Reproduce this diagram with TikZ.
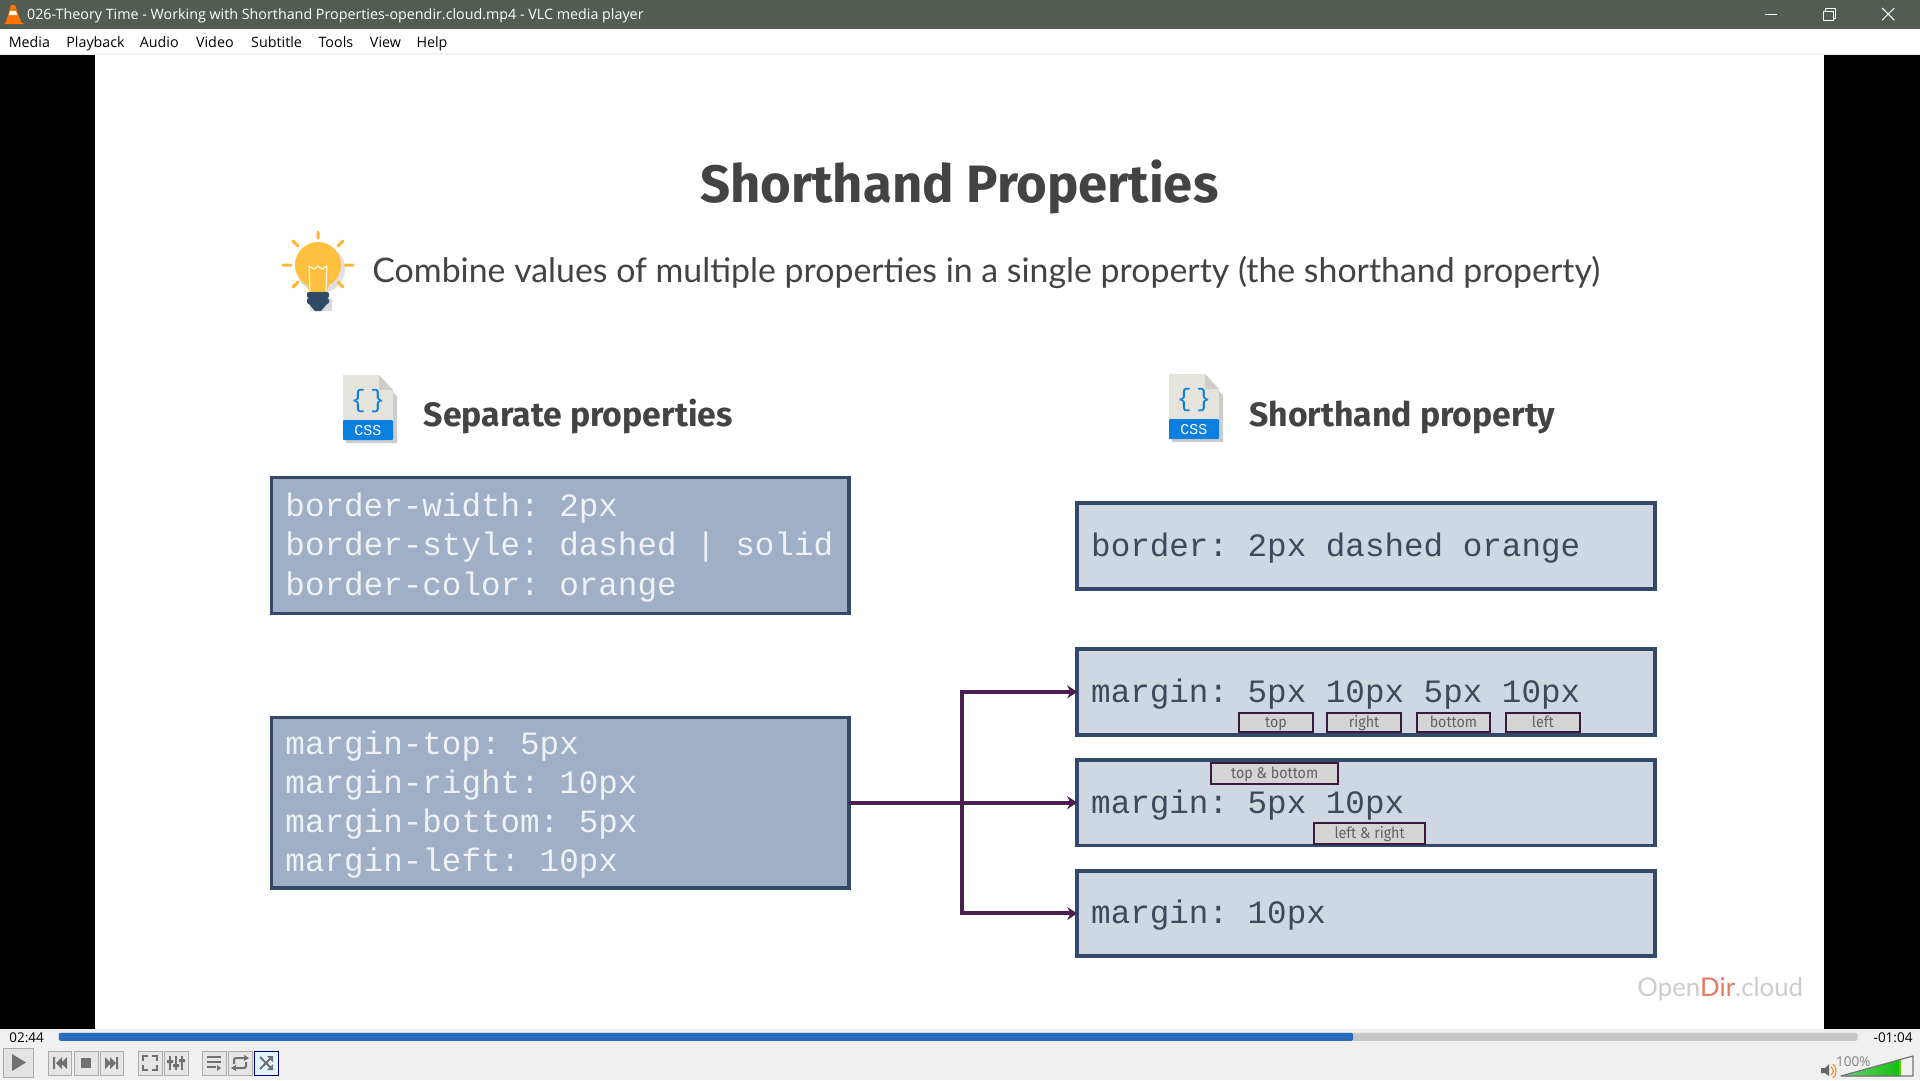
\documentclass[tikz,border=0pt]{standalone}
\usepackage{fontspec}
\usetikzlibrary{arrows.meta}
\setmainfont{Open Sans}
\newfontfamily\headfont{Fira Sans}
\newfontfamily\tagfont{Fira Sans}[FakeStretch=0.92]
\newfontfamily\leadfont{Lato}
\newfontfamily\codefont{Liberation Mono}
\definecolor{titlebar}{HTML}{525C52}
\definecolor{strokeblue}{HTML}{34496A}
\definecolor{darkfill}{HTML}{9FAFC6}
\definecolor{lightfill}{HTML}{CFD7E3}
\definecolor{plum}{HTML}{4A1E4E}
\definecolor{ink}{HTML}{434343}
\definecolor{darkcode}{HTML}{3D4A5C}
\definecolor{lightcode}{HTML}{EEF1F5}
\definecolor{panel}{HTML}{F0F0F0}
\definecolor{btn}{HTML}{E6E6E6}
\definecolor{btnline}{HTML}{ABABAB}
\definecolor{glyph}{HTML}{707070}
\definecolor{cssblue}{HTML}{0A7FE0}
\definecolor{paper}{HTML}{E4E3DC}
\definecolor{foldc}{HTML}{CFCEC6}
\definecolor{bulb}{HTML}{FFC040}
\definecolor{basec}{HTML}{2F4A66}
\definecolor{markred}{HTML}{E8795F}
\definecolor{volA}{HTML}{70D070}
\definecolor{volB}{HTML}{10C010}
\tikzset{
  codebox/.style={draw=strokeblue,line width=3.8pt,outer sep=0pt,inner ysep=0pt,inner xsep=14pt,align=left,
    font=\codefont\fontsize{32.6}{39.2}\selectfont},
  darkbox/.style={codebox,fill=darkfill,text=lightcode},
  lightbox/.style={codebox,fill=lightfill,text=darkcode},
  tagbox/.style={draw=plum!80!black,line width=1.8pt,fill=black!17,text=black!62,outer sep=0pt,inner sep=0pt,align=center,
    text height=12.5pt,text depth=2.5pt,font=\tagfont\fontsize{15.5}{18}\selectfont},
  link/.style={draw=plum,line width=4pt},
  linkarrow/.style={link,-{Stealth[length=10pt,width=13pt]}},
  menuitem/.style={anchor=base west,inner sep=0pt,text=black,font=\fontsize{14.3}{17}\selectfont},
  ctrl/.style={draw=btnline,fill=btn,line width=1pt},
  ctrlglyph/.style={fill=glyph,draw=none},
  ctrlline/.style={draw=glyph,line width=2pt},
  timer/.style={inner sep=0pt,text=black,font=\fontsize{13.5}{16}\selectfont},
  winbtn/.style={draw=white,line width=1pt},
  headline/.style={anchor=base west,inner sep=0pt,text=ink,font=\headfont\bfseries\fontsize{33.8}{38}\selectfont},
}
\newcommand{\codenode}[7]{%
  \pgfmathsetlengthmacro{\tw}{(#4-#2-1.4)*1.2245pt-28pt}%
  \pgfmathsetlengthmacro{\th}{(#5-#3)*1.2245pt}%
  \pgfmathsetmacro{\lx}{#2+0.7}%
  \node[#6,anchor=north west,text width=\tw,minimum height=\th] (#1) at (\lx,#3) {\spaceskip=19.56pt\xspaceskip=19.56pt\rule{0pt}{27.5pt}#7};}
\newcommand{\tagnode}[6]{%
  \pgfmathsetlengthmacro{\tw}{(#4-#2)*1.2245pt}%
  \pgfmathsetlengthmacro{\th}{(#5-#3)*1.2245pt}%
  \node[tagbox,anchor=north west,minimum width=\tw,minimum height=\th] (#1) at (#2,#3) {#6};}
\newcommand{\cssicon}[3]{%
  \begin{scope}[shift={(#2pt,-#3pt)},x=1pt,y=-1pt]
    \fill[black,opacity=.2] (3,6)--(37,6)--(54,21)--(54,68)--(3,68)--cycle;
    \fill[paper] (0,0)--(36,0)--(50,15)--(50,65)--(0,65)--cycle;
    \fill[foldc] (36,0)--(50,15)--(36,15)--cycle;
    \fill[cssblue,rounded corners=1pt] (0,45)--(50,45)--(50,65)--(0,65)--cycle;
    \node[text=cssblue,inner sep=0pt,font=\codefont\fontsize{25}{25}\selectfont] (#1b) at (25,26) {\{\,\}};
    \node[text=white,inner sep=0pt,font=\codefont\fontsize{15}{16}\selectfont] (#1c) at (25,56) {CSS};
  \end{scope}}
\begin{document}
\begin{tikzpicture}[x=1.2245pt,y=-1.2245pt]
\useasboundingbox (0,0) rectangle (1568,882);
% window frame
\fill[white] (0,0) rectangle (1568,882);
\fill[black] (0,45) rectangle (77.6,840);
\fill[black] (1489.6,45) rectangle (1568,840);
\fill[titlebar] (0,0) rectangle (1568,23.5);
\fill[black!5] (0,43.5) rectangle (1568,45);
\fill[panel] (0,840) rectangle (1568,882);
% vlc cone
\begin{scope}[shift={(4pt,-5pt)},x=1pt,y=-1pt]
  \fill[orange!90!red] (7,0)--(11,0)--(17,17)--(20,19)--(0,19)--(2,17)--cycle;
  \fill[white] (6,6)--(12,6)--(13,10)--(5,10)--cycle;
\end{scope}
\node[anchor=base west,inner sep=0pt,text=white,font=\fontsize{14.3}{17}\selectfont] (wintitle) at (22,16) {026-Theory Time - Working with Shorthand Properties-opendir.cloud.mp4 - VLC media player};
% window buttons
\draw[winbtn] (1441,11.5) -- (1451,11.5);
\draw[winbtn] (1489,9) rectangle (1497,17);
\draw[winbtn] (1491,9) -- (1491,7) -- (1499,7) -- (1499,15) -- (1497,15);
\draw[winbtn] (1537,6.5) -- (1547,16.5) (1547,6.5) -- (1537,16.5);
% menu
\node[menuitem] (mMedia) at (7,39) {Media};
\node[menuitem] (mPlay) at (54,39) {Playback};
\node[menuitem] (mAudio) at (114,39) {Audio};
\node[menuitem] (mVideo) at (160,39) {Video};
\node[menuitem] (mSub) at (205,39) {Subtitle};
\node[menuitem] (mTools) at (260,39) {Tools};
\node[menuitem] (mView) at (302,39) {View};
\node[menuitem] (mHelp) at (340,39) {Help};
% title and lead
\node[anchor=base,inner sep=0pt,text=ink,font=\headfont\bfseries\fontsize{52.6}{60}\selectfont] (title) at (783.5,165) {Shorthand Properties};
\node[anchor=base west,inner sep=0pt,text=ink,font=\leadfont\fontsize{33.85}{40}\selectfont] (lead) at (304,230.5) {Combine values of multiple properties in a single property (the shorthand property)};
% bulb
\begin{scope}[shift={(318pt,-265pt)},x=1pt,y=-1pt]
  \fill[black,opacity=.12] (3,4) circle (24);
  \fill[black,opacity=.15] (-8,34) rectangle (14,46);
  \fill[bulb] (0,0) circle (23);
  \fill[bulb] (-13,15) -- (13,15) -- (8,28) -- (-8,28) -- cycle;
  \draw[white,line width=1pt] (-8,26) -- (-9,1) -- (-4,4) -- (0,1) -- (4,4) -- (9,1) -- (8,26);
  \fill[basec,rounded corners=2pt] (-11,27) rectangle (11,33);
  \fill[basec,rounded corners=2pt] (-11,33) rectangle (11,39);
  \fill[basec] (-9,39) -- (9,39) -- (3,46) -- (-3,46) -- cycle;
  \draw[bulb!85!orange,line width=3pt,line cap=round]
    (-35,0) -- (-27,0) (27,0) -- (35,0) (0,-33) -- (0,-27)
    (-25,-24) -- (-20,-19) (25,-24) -- (20,-19)
    (-25,22) -- (-20,17) (25,22) -- (20,17);
\end{scope}
% icons and headings
\cssicon{iconA}{343}{375}
\cssicon{iconB}{1169}{374}
\node[headline] (headA) at (346,348) {Separate properties};
\node[headline] (headB) at (1020,348) {Shorthand property};
% left boxes
\codenode{sepA}{221}{390}{694}{501}{darkbox}{border-width: 2px\\border-style: dashed | solid\\border-color: orange}
\codenode{sepB}{221}{586}{694}{725}{darkbox}{margin-top: 5px\\margin-right: 10px\\margin-bottom: 5px\\margin-left: 10px}
% right boxes
\codenode{shA}{879}{411}{1352}{481}{lightbox}{border: 2px dashed orange}
\codenode{shB}{879}{530}{1352}{600}{lightbox}{margin: 5px 10px 5px 10px}
\codenode{shC}{879}{620.5}{1352}{690.5}{lightbox}{margin: 5px 10px}
\codenode{shD}{879}{711}{1352}{781}{lightbox}{margin: 10px}
% tags
\tagnode{tTop}{1012}{582}{1072}{598}{top}
\tagnode{tRight}{1084}{582}{1144}{598}{right}
\tagnode{tBottom}{1157}{582}{1217}{598}{bottom}
\tagnode{tLeft}{1230}{582}{1290}{598}{left}
\tagnode{tTB}{989}{623}{1093}{640}{top \& bottom}
\tagnode{tLR}{1073}{672}{1164}{689}{left \& right}
% connectors
\coordinate (fork) at (786,655.5);
\draw[linkarrow] (sepB.east) -- (shC.west);
\draw[linkarrow] (fork) -- (fork |- shB.west) -- (shB.west);
\draw[linkarrow] (fork) -- (fork |- shD.west) -- (shD.west);
% watermark
\node[anchor=base west,inner sep=0pt,text=black!20,font=\leadfont\fontsize{25.8}{28}\selectfont] (mark) at (1337,814) {Open\textcolor{markred}{Dir}.cloud};
% controls
\node[timer,anchor=base west] (tNow) at (7.5,851) {02:44};
\node[timer,anchor=base east] (tLeftover) at (1562,851) {-01:04};
\fill[black!22,rounded corners=2pt] (48,843.5) rectangle (1517,850);
\fill[blue!55!cyan!70!black!85,rounded corners=2pt] (48,843.5) rectangle (1105,850);
\begin{scope}[x=1pt,y=-1pt]
  \draw[ctrl,fill=black!11] (4,1048) rectangle (33,1077);
  \fill[ctrlglyph] (12,1054) -- (26,1062.5) -- (12,1071) -- cycle;
  \draw[ctrl] (48,1051) rectangle (71,1075);
  \fill[ctrlglyph] (53,1057) rectangle (55,1069) (62,1057) -- (56,1063) -- (62,1069) -- cycle (67,1057) -- (61,1063) -- (67,1069) -- cycle;
  \draw[ctrl] (74,1051) rectangle (98,1075);
  \fill[ctrlglyph] (81,1058) rectangle (91,1068);
  \draw[ctrl] (100,1051) rectangle (123,1075);
  \fill[ctrlglyph] (118,1057) rectangle (116,1069) (105,1057) -- (111,1063) -- (105,1069) -- cycle (110,1057) -- (116,1063) -- (110,1069) -- cycle;
  \draw[ctrl] (138,1051) rectangle (162,1075);
  \draw[ctrlline] (143,1061) -- (143,1056) -- (148,1056) (152,1056) -- (157,1056) -- (157,1061) (143,1065) -- (143,1070) -- (148,1070) (152,1070) -- (157,1070) -- (157,1065);
  \draw[ctrl] (164,1051) rectangle (188,1075);
  \draw[ctrlline] (170,1056) -- (170,1070) (176,1056) -- (176,1070) (182,1056) -- (182,1070);
  \fill[ctrlglyph] (167,1060) rectangle (173,1063) (173,1064) rectangle (179,1067) (179,1059) rectangle (185,1062);
  \draw[ctrl] (202,1051) rectangle (226,1075);
  \draw[ctrlline] (207,1057) -- (221,1057) (207,1062) -- (221,1062) (207,1067) -- (216,1067);
  \fill[ctrlglyph] (217,1065) -- (221,1068) -- (217,1071) -- cycle;
  \draw[ctrl] (228,1051) rectangle (252,1075);
  \draw[ctrlline,rounded corners=2pt] (234,1064) -- (234,1058) -- (246,1058) (246,1062) -- (246,1068) -- (234,1068);
  \fill[ctrlglyph] (244,1055) -- (249,1058) -- (244,1061) -- cycle (236,1065) -- (231,1068) -- (236,1071) -- cycle;
  \draw[draw=blue!55!black,fill=cyan!12,line width=1pt] (254,1051) rectangle (278,1075);
  \draw[ctrlline] (260,1057) -- (272,1069) (260,1069) -- (272,1057);
  \fill[ctrlglyph] (267,1056) -- (273,1056) -- (273,1062) -- cycle (267,1070) -- (273,1070) -- (273,1064) -- cycle;
  % volume
  \fill[left color=volA,right color=volB] (1841,1076) -- (1900,1060) -- (1900,1076) -- cycle;
  \fill[green!55!yellow!80!black] (1899,1060) rectangle (1900.5,1076);
  \draw[draw=black!55,line width=1.2pt,line join=round] (1841,1076) -- (1913,1056) -- (1913,1076) -- cycle;
  \fill[black!60] (1821,1068) -- (1825,1068) -- (1829,1064) -- (1829,1076) -- (1825,1073) -- (1821,1073) -- cycle;
  \draw[orange,line width=1pt] (1831,1067) .. controls (1834,1069) and (1834,1073) .. (1831,1075);
  \draw[orange,line width=1pt] (1833,1064) .. controls (1837,1067) and (1837,1075) .. (1833,1078);
\end{scope}
\node[inner sep=0pt,text=black!50,font=\fontsize{13.5}{14}\selectfont] (volpct) at (1513.5,867) {100\%};
\end{tikzpicture}
\end{document}
